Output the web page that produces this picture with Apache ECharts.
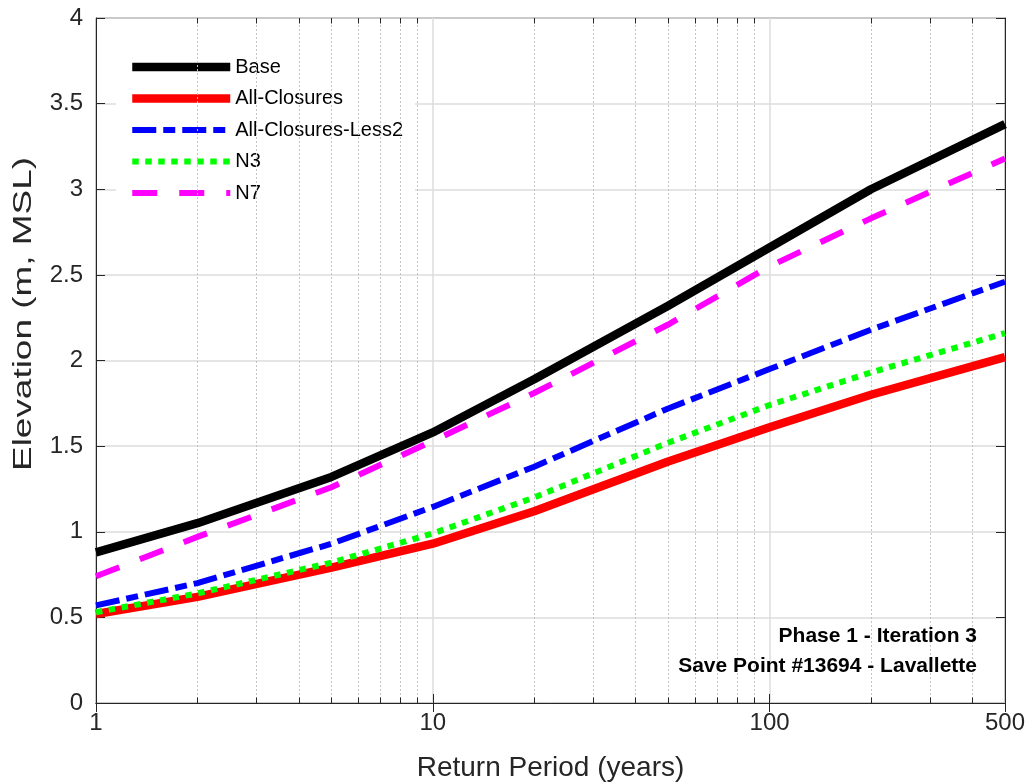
<!DOCTYPE html>
<html>
<head>
<meta charset="utf-8">
<script src="https://cdn.jsdelivr.net/npm/echarts@6/dist/echarts.min.js"></script>
<style>
html, body { margin: 0; padding: 0; background: #fff; }
#chart { width: 1026px; height: 783px; }
</style>
</head>
<body>
<div id="chart"></div>
<script>
var dom = document.getElementById("chart");
var myChart = echarts.init(dom);

// return periods (years)
var periods = [1, 2, 5, 10, 20, 50, 100, 200, 500];
var minorPeriods = [2, 3, 4, 5, 6, 7, 8, 9, 20, 30, 40, 50, 60, 70, 80, 90, 200, 300, 400];

var names = ['Base', 'All-Closures', 'All-Closures-Less2', 'N3', 'N7'];
var base = [0.88, 1.05, 1.32, 1.58, 1.89, 2.32, 2.66, 3.00, 3.38];
var allClosures = [0.52, 0.62, 0.79, 0.93, 1.12, 1.41, 1.61, 1.80, 2.02];
var allClosuresLess2 = [0.57, 0.70, 0.93, 1.145, 1.38, 1.72, 1.95, 2.18, 2.46];
var n3 = [0.53, 0.64, 0.82, 0.99, 1.20, 1.52, 1.74, 1.93, 2.16];
var n7 = [0.74, 0.97, 1.26, 1.53, 1.81, 2.21, 2.55, 2.83, 3.18];

function pairs(vals) {
    return vals.map(function (v, i) { return [periods[i], v]; });
}

var font = 'Liberation Sans';
var axisColor = '#262626';

var styles = {
    'Base': { color: '#000000', width: 8.5, type: 'solid' },
    'All-Closures': { color: '#ff0000', width: 8.5, type: 'solid' },
    'All-Closures-Less2': { color: '#0000ff', width: 6, type: [24, 7, 12, 7] },
    'N3': { color: '#00ff00', width: 6, type: [6.5, 6.5] },
    'N7': { color: '#ff00ff', width: 6, type: [25, 22] }
};

function mkLine(name, vals) {
    var s = styles[name];
    return {
        name: name,
        type: 'line',
        data: pairs(vals),
        symbol: 'none',
        z: 5,
        lineStyle: { color: s.color, width: s.width, type: s.type, cap: 'butt' },
        itemStyle: { color: s.color }
    };
}

// minor tick marks on bottom and top edges
var minorTickLines = [];
minorPeriods.forEach(function (p) {
    minorTickLines.push([{ coord: [p, 0] }, { coord: [p, 0.032] }]);
    minorTickLines.push([{ coord: [p, 4] }, { coord: [p, 3.968] }]);
});

option = {
    animation: false,
    textStyle: { fontFamily: font },
    grid: {
        left: 96,
        right: 21,
        top: 18,
        bottom: 80,
        outerBoundsMode: 'none',
        containLabel: false,
        show: true,
        borderColor: axisColor,
        borderWidth: 1,
        backgroundColor: '#fff'
    },
    legend: {
        data: names.map(function (n) {
            var s = styles[n];
            return {
                name: n,
                lineStyle: { color: s.color, width: s.width, type: s.type, cap: 'butt' }
            };
        }),
        orient: 'vertical',
        left: 116,
        top: 47,
        padding: [10, 12],
        backgroundColor: '#fff',
        itemWidth: 98,
        itemHeight: 20,
        itemGap: 11.5,
        itemStyle: { opacity: 0 },
        textStyle: { fontFamily: font, fontSize: 20, color: '#000', lineHeight: 20 }
    },
    xAxis: [{
        type: 'log',
        logBase: 10,
        min: 1,
        max: 500,
        name: 'Return Period (years)',
        nameLocation: 'middle',
        nameGap: 51,
        nameTextStyle: { fontSize: 28, color: axisColor, fontFamily: font },
        axisLine: { show: true, lineStyle: { color: axisColor } },
        axisTick: { inside: true, length: 9, lineStyle: { color: axisColor } },
        axisLabel: { fontSize: 24, color: axisColor, margin: 8, fontFamily: font, showMaxLabel: true },
        splitLine: { show: true, lineStyle: { color: '#dcdcdc', width: 1.5 } }
    }, {
        type: 'log',
        logBase: 10,
        min: 1,
        max: 500,
        position: 'top',
        axisLine: { show: true, lineStyle: { color: axisColor } },
        axisTick: { inside: true, length: 9, lineStyle: { color: axisColor } },
        axisLabel: { show: false },
        splitLine: { show: false }
    }],
    yAxis: [{
        type: 'value',
        min: 0,
        max: 4,
        interval: 0.5,
        axisLine: { show: true, lineStyle: { color: axisColor } },
        axisTick: { show: true, inside: true, length: 9, lineStyle: { color: axisColor } },
        axisLabel: { fontSize: 24, color: axisColor, margin: 13, fontFamily: font },
        splitLine: { show: true, lineStyle: { color: '#dcdcdc', width: 1.5 } }
    }, {
        type: 'value',
        min: 0,
        max: 4,
        interval: 0.5,
        position: 'right',
        axisLine: { show: true, lineStyle: { color: axisColor } },
        axisTick: { show: true, inside: true, length: 9, lineStyle: { color: axisColor } },
        axisLabel: { show: false },
        splitLine: { show: false }
    }],
    series: [
        {
            // minor log grid lines
            name: 'minor',
            type: 'line',
            data: [[1, 0]],
            symbol: 'none',
            silent: true,
            z: 1,
            lineStyle: { opacity: 0 },
            markLine: {
                silent: true,
                symbol: ['none', 'none'],
                label: { show: false },
                lineStyle: { type: [2, 2], color: '#c4c4c4', width: 1 },
                data: minorPeriods.map(function (p) { return { xAxis: p }; })
            }
        },
        {
            name: 'minorTicks',
            type: 'line',
            data: [[1, 0]],
            symbol: 'none',
            silent: true,
            z: 3,
            lineStyle: { opacity: 0 },
            markLine: {
                silent: true,
                symbol: ['none', 'none'],
                label: { show: false },
                lineStyle: { type: 'solid', color: axisColor, width: 1 },
                data: minorTickLines
            }
        },
        mkLine('Base', base),
        mkLine('All-Closures', allClosures),
        mkLine('All-Closures-Less2', allClosuresLess2),
        mkLine('N3', n3),
        mkLine('N7', n7)
    ],
    graphic: [{
        // y axis title
        type: 'text',
        x: 24,
        y: 314,
        rotation: Math.PI / 2,
        scaleX: 1.42,
        style: {
            text: 'Elevation (m, MSL)',
            textAlign: 'center',
            textVerticalAlign: 'middle',
            font: '26px "Liberation Sans"',
            fill: axisColor
        }
    }, {
        type: 'text',
        right: 49,
        top: 621,
        z: 10,
        style: {
            text: 'Phase 1 - Iteration 3\nSave Point #13694 - Lavallette',
            textAlign: 'right',
            font: 'bold 21px "Liberation Sans"',
            lineHeight: 30,
            fill: '#000'
        }
    }]
};

if (option && typeof option === "object") {
    myChart.setOption(option, true);
}
</script>
</body>
</html>
